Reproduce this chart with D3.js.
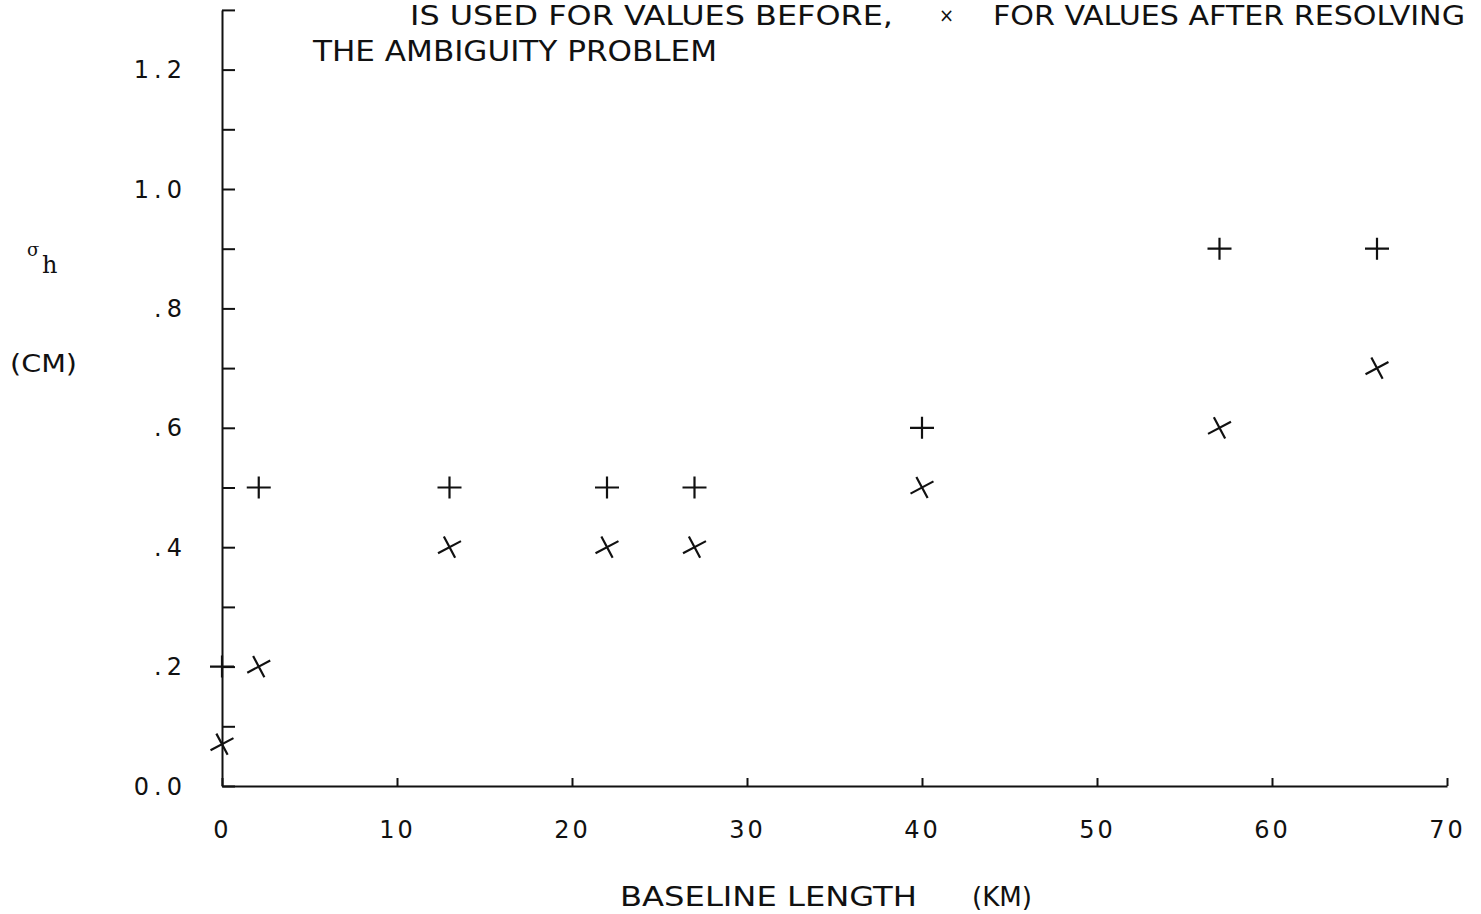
<!DOCTYPE html>
<html>
<head>
<meta charset="utf-8">
<script src="https://cdn.jsdelivr.net/npm/d3@7"></script>
<style>
  html, body { margin: 0; padding: 0; background: #fff; }
  svg { display: block; }
  .plot text { fill: #111; }
</style>
</head>
<body>
<svg id="chart" width="1481" height="914"></svg>
<script>
// Baseline length (km) and horizontal standard deviation sigma_h (cm)
const baselineKm   = [0, 2.1, 13, 22, 27, 40, 57, 66];
const sigmaBefore  = [0.2, 0.5, 0.5, 0.5, 0.5, 0.6, 0.9, 0.9];   // "+" marks
const sigmaAfter   = [0.07, 0.2, 0.4, 0.4, 0.4, 0.5, 0.6, 0.7]; // "x" marks

const xTickValues  = [0, 10, 20, 30, 40, 50, 60, 70];
const xTickLabels  = ["0", "10", "20", "30", "40", "50", "60", "70"];
const yTickValues  = [0, 0.1, 0.2, 0.3, 0.4, 0.5, 0.6, 0.7, 0.8, 0.9, 1.0, 1.1, 1.2, 1.3];
const yLabelValues = [0, 0.2, 0.4, 0.6, 0.8, 1.0, 1.2];
const yTickLabels  = ["0.0", ".2", ".4", ".6", ".8", "1.0", "1.2"];

const svg = d3.select("#chart");
const g = svg.append("g").attr("class", "plot");

const x = d3.scaleLinear().domain([0, 70]).range([222, 1447]);
const y = d3.scaleLinear().domain([0, 1.3]).range([786, 786 - 1.3 * 597]);

const plotFont = "'DejaVu Sans', sans-serif";
const headFont = "'Liberation Sans Narrow', 'DejaVu Sans Condensed', 'Liberation Sans', sans-serif";

// X axis: ticks point up into the plot
const xAxis = d3.axisBottom(x)
  .tickValues(xTickValues)
  .tickSizeInner(-8)
  .tickSizeOuter(0)
  .tickPadding(35)
  .tickFormat((d, i) => xTickLabels[i]);

const gx = g.append("g").attr("transform", `translate(0,${y(0)})`).call(xAxis);
gx.select(".domain").attr("stroke", "#111").attr("stroke-width", 2);
gx.selectAll(".tick line").attr("stroke", "#111").attr("stroke-width", 2);
gx.selectAll(".tick text")
  .attr("font-family", plotFont)
  .attr("font-size", 24)
  .attr("letter-spacing", 3)
  .attr("fill", "#111");

// Y axis: ticks every 0.1 pointing right, labels every 0.2
const yAxis = d3.axisLeft(y)
  .tickValues(yTickValues)
  .tickSizeInner(-13)
  .tickSizeOuter(0)
  .tickFormat("");

const gy = g.append("g").attr("transform", `translate(${x(0)},0)`).call(yAxis);
gy.select(".domain").attr("stroke", "#111").attr("stroke-width", 2);
gy.selectAll(".tick line").attr("stroke", "#111").attr("stroke-width", 2);

g.append("g").selectAll("text")
  .data(yLabelValues)
  .join("text")
  .attr("x", 187)
  .attr("y", d => y(d))
  .attr("dy", "0.36em")
  .attr("text-anchor", "end")
  .attr("font-family", plotFont)
  .attr("font-size", 24)
  .attr("letter-spacing", 5)
  .text((d, i) => yTickLabels[i]);

// "+" markers: values before resolving the ambiguity
const plusArm = 12;
g.append("g").selectAll("path")
  .data(baselineKm.map((k, i) => [k, sigmaBefore[i]]))
  .join("path")
  .attr("transform", d => `translate(${x(d[0])},${y(d[1])})`)
  .attr("d", `M${-plusArm},0H${plusArm}M0,${-plusArm + 1}V${plusArm - 1}`)
  .attr("stroke", "#111")
  .attr("stroke-width", 2.2)
  .attr("fill", "none");

// "x" markers: values after resolving the ambiguity (a tilted cross)
g.append("g").selectAll("path")
  .data(baselineKm.map((k, i) => [k, sigmaAfter[i]]))
  .join("path")
  .attr("transform", d => `translate(${x(d[0])},${y(d[1])}) rotate(-28)`)
  .attr("d", `M-13,0H13M0,-12V12`)
  .attr("stroke", "#111")
  .attr("stroke-width", 2.2)
  .attr("fill", "none");

// Axis titles
g.append("text")
  .attr("x", 27).attr("y", 256)
  .attr("font-family", "'DejaVu Serif', serif")
  .attr("font-size", 18)
  .text("σ");
g.append("text")
  .attr("x", 42).attr("y", 273)
  .attr("font-family", "'DejaVu Serif', serif")
  .attr("font-size", 24)
  .text("h");
g.append("text")
  .attr("x", 10).attr("y", 372)
  .attr("font-family", plotFont)
  .attr("font-size", 24)
  .attr("textLength", 67)
  .attr("lengthAdjust", "spacingAndGlyphs")
  .text("(CM)");

g.append("text")
  .attr("x", 620).attr("y", 906)
  .attr("font-family", plotFont)
  .attr("font-size", 27)
  .attr("textLength", 297)
  .attr("lengthAdjust", "spacingAndGlyphs")
  .text("BASELINE LENGTH");
g.append("text")
  .attr("x", 972).attr("y", 906)
  .attr("font-family", plotFont)
  .attr("font-size", 27)
  .attr("textLength", 60)
  .attr("lengthAdjust", "spacingAndGlyphs")
  .text("(KM)");

// Note on the symbols at the top edge
const head = g.append("g")
  .attr("font-family", headFont)
  .attr("font-size", 26);
head.append("text")
  .attr("x", 410).attr("y", 25)
  .attr("textLength", 483)
  .attr("lengthAdjust", "spacingAndGlyphs")
  .text("IS USED FOR VALUES BEFORE,");
head.append("text")
  .attr("x", 939).attr("y", 22)
  .attr("font-size", 20)
  .text("×");
head.append("text")
  .attr("x", 993).attr("y", 25)
  .attr("textLength", 472)
  .attr("lengthAdjust", "spacingAndGlyphs")
  .text("FOR VALUES AFTER RESOLVING");
head.append("text")
  .attr("x", 313).attr("y", 61)
  .attr("font-size", 28)
  .attr("textLength", 404)
  .attr("lengthAdjust", "spacingAndGlyphs")
  .text("THE AMBIGUITY PROBLEM");
</script>
</body>
</html>
